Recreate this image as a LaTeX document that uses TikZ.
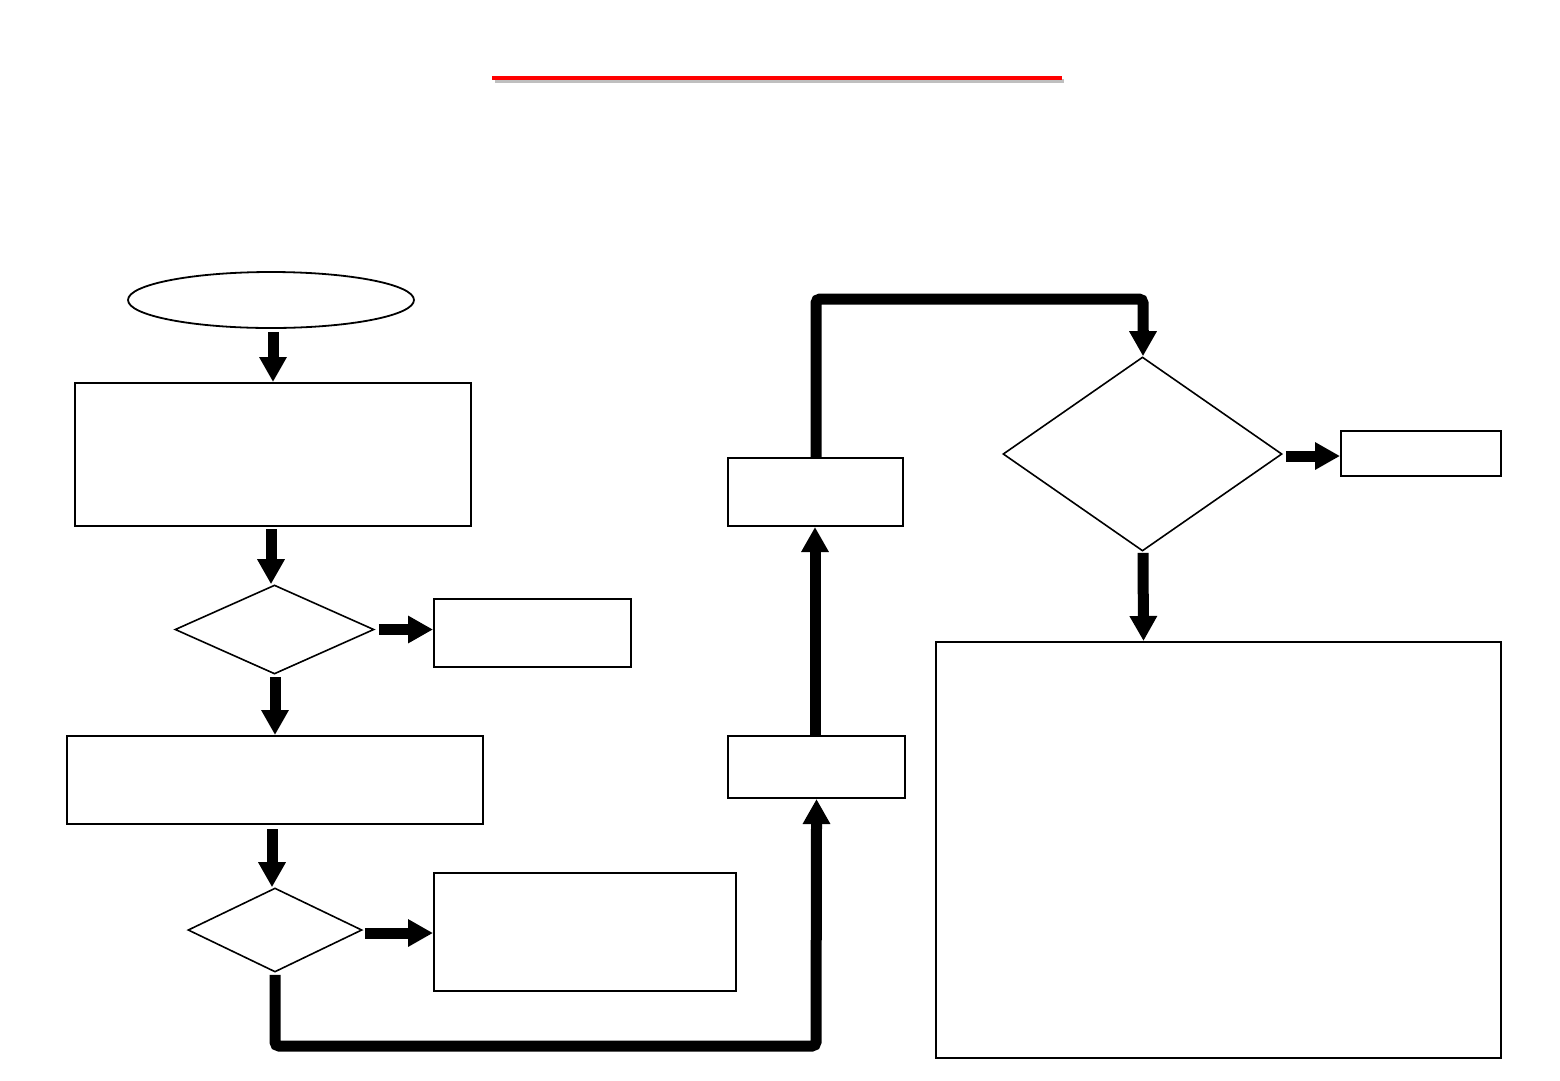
\documentclass[tikz,border=0pt]{standalone}
\usetikzlibrary{shapes.geometric,arrows.meta,calc}
\begin{document}
\begin{tikzpicture}[x=1pt,y=-1pt,
  box/.style={draw, line width=2pt, rectangle, inner sep=0pt},
  dia/.style={draw, line width=1.6pt, diamond, inner sep=0pt},
  blk/.style={line width=11pt, -{Triangle[width=26pt,length=25pt]}},
  conn/.style={line width=11pt, rounded corners=4pt},
]
\useasboundingbox (0,0) rectangle (1560,1080);
% title rule
\draw[line width=3.5pt, black!25] (495,81) -- (1064,81);
\draw[line width=3.5pt, red] (492,78) -- (1062,78);
% nodes
\node[draw, ellipse, line width=1.8pt, minimum width=286pt, minimum height=56pt, inner sep=0pt] (st) at (271,300) {};
\node[box, minimum width=396pt, minimum height=143pt] (b1) at (273,454.5) {};
\node[dia, minimum width=199pt, minimum height=89pt] (d1) at (274.5,629.5) {};
\node[box, minimum width=197pt, minimum height=68pt] (b2) at (532.5,633) {};
\node[box, minimum width=416pt, minimum height=88pt] (b3) at (275,780) {};
\node[dia, minimum width=174pt, minimum height=84pt] (d2) at (275,930) {};
\node[box, minimum width=302pt, minimum height=118pt] (b4) at (585,932) {};
\node[box, minimum width=177pt, minimum height=62pt] (b6) at (816.5,767) {};
\node[box, minimum width=175pt, minimum height=68pt] (b5) at (815.5,492) {};
\node[dia, minimum width=279pt, minimum height=194pt] (d3) at (1142.5,454) {};
\node[box, minimum width=160pt, minimum height=45pt] (b7) at (1421,453.5) {};
\node[box, minimum width=565pt, minimum height=416pt] (b8) at (1218.5,850) {};
% arrows
\draw[blk] ($(st.south)+(2,3)$) -- (b1.north);
\draw[blk] ($(b1.south)+(-2,2)$) -- ($(d1.north)+(-3.5,0)$);
\draw[blk] ($(d1.east)+(4,0)$) -- (d1.east -| b2.west);
\draw[blk] ($(d1.south)+(0.5,2)$) -- (b3.north);
\draw[blk] ($(b3.south)+(-3,4)$) -- ($(d2.north)+(-3,0)$);
\draw[blk] ($(d2.east)+(2,3)$) -- ($(d2.east -| b4.west)+(0,3)$);
\coordinate (c1) at (816,1046);
\draw[conn] ($(d2.south)+(0,2)$) |- (c1) -- ($(b6.south)+(0,25)$);
\draw[blk] ($(b6.south)+(0,26)$) -- (b6.south);
\draw[blk] ($(b6.north)+(-1.5,0)$) -- ($(b5.south)+(-0.5,0)$);
\coordinate (c2) at (1143,299);
\draw[conn] ($(b5.north)+(0.5,0)$) |- (c2) -- ($(d3.north)+(0.5,-25)$);
\draw[blk] ($(d3.north)+(0.5,-26)$) -- ($(d3.north)+(0.5,0)$);
\draw[blk] ($(d3.east)+(3,2)$) -- ($(d3.east -| b7.west)+(0,2)$);
\draw[blk] ($(d3.south)+(0.5,1)$) -- ($(b8.north)+(-75,0)$ |- b8.north);
\end{tikzpicture}
\end{document}
